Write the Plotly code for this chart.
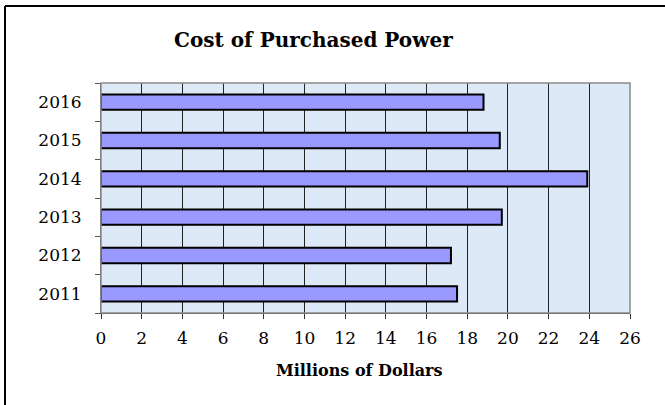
import plotly.graph_objects as go

years = ["2011", "2012", "2013", "2014", "2015", "2016"]
cost = [17.5, 17.2, 19.7, 23.9, 19.6, 18.8]
x_ticks = list(range(0, 27, 2))

W, H = 665, 405
L, R, T, B = 101, 35, 83, 92
PW, PH = W - L - R, H - T - B

def px(x):
    return (x - L) / PW

def py(y):
    return (H - B - y) / PH

serif = "DejaVu Serif"

fig = go.Figure()
fig.add_trace(go.Bar(
    y=years, x=cost, orientation="h", width=0.4,
    marker=dict(color="#9999ff", line=dict(color="#000000", width=2)),
))

fig.update_layout(
    width=W, height=H,
    margin=dict(l=L, r=R, t=T, b=B),
    paper_bgcolor="white",
    plot_bgcolor="#dde9f6",
    showlegend=False,
    bargap=0.6,
    font=dict(family=serif, color="#000000", size=17),
    xaxis=dict(
        range=[0, 26], tickvals=x_ticks, ticktext=[str(v) for v in x_ticks],
        showgrid=True, gridcolor="#222222", gridwidth=1,
        ticks="outside", ticklen=5, tickcolor="#333333", tickwidth=1,
        showline=True, linecolor="#333333", linewidth=1,
        zeroline=False, tickfont=dict(size=17, family=serif),
        ticklabelstandoff=5,
        fixedrange=True,
    ),
    yaxis=dict(
        type="category", categoryorder="array", categoryarray=years,
        tickson="boundaries", ticks="outside", ticklen=5,
        tickcolor="#555555", tickwidth=1,
        showline=True, linecolor="#666666", linewidth=1,
        showgrid=False, tickfont=dict(size=17, family=serif),
        ticklabelstandoff=15,
        fixedrange=True,
    ),
    shapes=[
        dict(type="rect", xref="paper", yref="paper", x0=0, x1=1, y0=0, y1=1,
             line=dict(color="#8a8a8a", width=1.5), layer="above"),
        dict(type="line", xref="paper", yref="paper", x0=px(5), x1=px(668), y0=py(6), y1=py(6),
             line=dict(color="#000000", width=2)),
        dict(type="line", xref="paper", yref="paper", x0=px(5), x1=px(5), y0=py(6), y1=py(408),
             line=dict(color="#000000", width=2)),
    ],
    annotations=[
        dict(text="<b>Cost of Purchased Power</b>", xref="paper", yref="paper",
             x=px(313), y=py(40), xanchor="center", yanchor="middle", showarrow=False,
             font=dict(size=20, family=serif, color="#000000")),
        dict(text="<b>Millions of Dollars</b>", xref="paper", yref="paper",
             x=px(359), y=py(370), xanchor="center", yanchor="middle", showarrow=False,
             font=dict(size=16, family=serif, color="#000000")),
    ],
)

fig.write_html("out.html", config={"displayModeBar": False},
               post_script="document.body.style.margin='0px';")
